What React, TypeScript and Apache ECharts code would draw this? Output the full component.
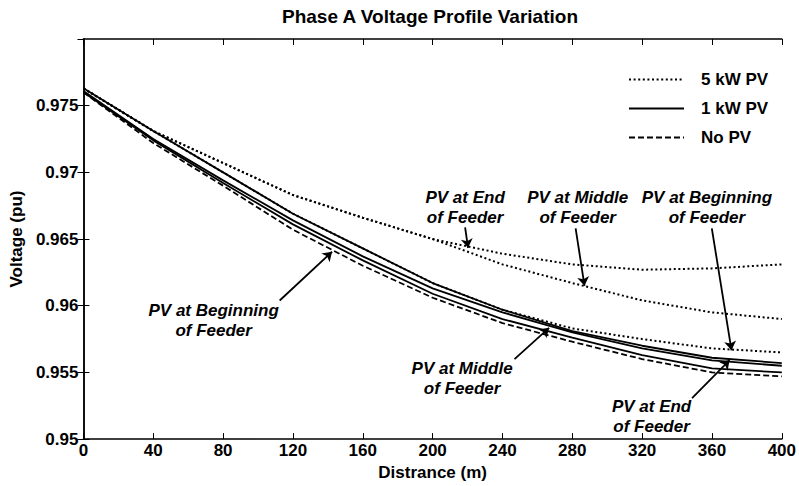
import React, { useEffect, useRef } from "react";
import * as echarts from "echarts";

// Distance along feeder (m)
const distances = [0, 40, 80, 120, 160, 200, 240, 280, 320, 360, 400];

// Voltage (pu)
const noPV = [0.976, 0.9722, 0.969, 0.9657, 0.963, 0.9606, 0.9587, 0.9573, 0.956, 0.955, 0.9547];
const kw1Beginning = [0.976, 0.9724, 0.9692, 0.9661, 0.9634, 0.9609, 0.959, 0.9576, 0.9563, 0.9553, 0.955];
const kw1Middle = [0.9761, 0.9725, 0.9694, 0.9664, 0.9637, 0.9613, 0.9595, 0.958, 0.9568, 0.9559, 0.9555];
const kw1End = [0.9763, 0.9731, 0.97, 0.9669, 0.9643, 0.9617, 0.9597, 0.9581, 0.957, 0.9561, 0.9557];
const kw5End = [0.9763, 0.9731, 0.9707, 0.9683, 0.9666, 0.965, 0.9639, 0.9631, 0.9627, 0.9628, 0.9631];
const kw5Middle = [0.9763, 0.9731, 0.9707, 0.9683, 0.9666, 0.965, 0.9631, 0.9617, 0.9604, 0.9595, 0.959];
const kw5Beginning = [0.9763, 0.9731, 0.97, 0.9669, 0.9643, 0.9617, 0.9597, 0.9583, 0.9575, 0.9568, 0.9565];

const legendNames = ["5 kW PV", "1 kW PV", "No PV"];

// Annotations (data coordinates)
const annotationTexts = [
  "PV at End\nof Feeder",
  "PV at Middle\nof Feeder",
  "PV at Beginning\nof Feeder",
  "PV at Beginning\nof Feeder",
  "PV at Middle\nof Feeder",
  "PV at End\nof Feeder",
];
const annotationX = [218.6, 283.1, 357.1, 74.6, 216.9, 325.4];
const annotationY = [0.9674, 0.9674, 0.9674, 0.9589, 0.95454, 0.95168];
const arrowFromX = [218.6, 281.9, 359.9, 112.4, 246.9, 348.6];
const arrowFromY = [0.96588, 0.9658, 0.9658, 0.96039, 0.956, 0.95307];
const arrowToX = [220.3, 287, 371.2, 142.4, 266.7, 370.1];
const arrowToY = [0.96434, 0.96149, 0.95666, 0.96405, 0.95834, 0.95593];

const FONT = "Arial, 'Liberation Sans', Helvetica, sans-serif";
const DOTTED = [2, 2.6];
const DASHED = [6, 3];

export default function App() {
  const ref = useRef<HTMLDivElement>(null);

  useEffect(() => {
    if (!ref.current) return;
    const chart = echarts.init(ref.current, undefined, { renderer: "svg" });

    const lineSeries = (name: string, vals: number[], type: any, width: number, z: number) => ({
      name,
      type: "line",
      data: distances.map((d, i) => [d, vals[i]]),
      symbol: "none",
      showSymbol: false,
      silent: true,
      z,
      lineStyle: { color: "#000", width, type },
      itemStyle: { color: "#000" },
    });

    const axisCommon = {
      axisLine: { show: true, lineStyle: { color: "#000", width: 1.5 } },
      axisTick: { show: true, inside: true, length: 6, lineStyle: { color: "#000", width: 1 } },
      splitLine: { show: false },
    };

    chart.setOption({
      animation: false,
      backgroundColor: "#fff",
      title: {
        text: "Phase A Voltage Profile Variation",
        left: 430,
        textAlign: "center",
        top: 7,
        padding: 0,
        textStyle: { fontFamily: FONT, fontWeight: "bold", fontSize: 19, color: "#000" },
      },
      legend: {
        data: legendNames,
        orient: "vertical",
        left: 623,
        top: 66,
        itemWidth: 55,
        itemHeight: 14,
        itemGap: 12,
        selectedMode: false,
        itemStyle: { opacity: 0 },
        lineStyle: { opacity: 1 },
        textStyle: {
          fontFamily: FONT,
          fontWeight: "bold",
          fontSize: 17,
          lineHeight: 15,
          color: "#000",
          padding: [0, 0, 0, 12],
        },
      },
      grid: { left: 78, right: 13, top: 39, bottom: 37, containLabel: false },
      xAxis: [
        {
          type: "value",
          min: 0,
          max: 400,
          interval: 40,
          position: "bottom",
          name: "Distrance (m)",
          nameLocation: "middle",
          nameGap: 22,
          nameTextStyle: { fontFamily: FONT, fontWeight: "bold", fontSize: 17, color: "#000" },
          axisLabel: { fontFamily: FONT, fontWeight: "bold", fontSize: 17, color: "#000", margin: 3 },
          ...axisCommon,
        },
        {
          type: "value",
          min: 0,
          max: 400,
          interval: 40,
          position: "top",
          axisLabel: { show: false },
          ...axisCommon,
        },
      ],
      yAxis: [
        {
          type: "value",
          min: 0.95,
          max: 0.98,
          interval: 0.005,
          position: "left",
          name: "Voltage (pu)",
          nameLocation: "middle",
          nameGap: 51,
          nameTextStyle: { fontFamily: FONT, fontWeight: "bold", fontSize: 17, color: "#000" },
          axisLabel: {
            fontFamily: FONT,
            fontWeight: "bold",
            fontSize: 17,
            color: "#000",
            margin: 5,
            showMaxLabel: false,
          },
          ...axisCommon,
        },
        {
          type: "value",
          min: 0.95,
          max: 0.98,
          interval: 0.005,
          position: "right",
          axisLabel: { show: false },
          ...axisCommon,
        },
      ],
      series: [
        lineSeries("No PV", noPV, DASHED, 1.8, 2),
        lineSeries("1 kW PV", kw1Beginning, "solid", 1.8, 3),
        lineSeries("1 kW PV", kw1Middle, "solid", 1.8, 3),
        lineSeries("1 kW PV", kw1End, "solid", 1.8, 3),
        lineSeries("5 kW PV", kw5End, DOTTED, 2, 4),
        lineSeries("5 kW PV", kw5Middle, DOTTED, 2, 4),
        lineSeries("5 kW PV", kw5Beginning, DOTTED, 2, 4),
        {
          name: "arrows",
          type: "lines",
          coordinateSystem: "cartesian2d",
          silent: true,
          z: 5,
          symbol: ["none", "arrow"],
          symbolSize: 9,
          lineStyle: { color: "#000", width: 1.8, opacity: 1 },
          data: arrowFromX.map((x, i) => ({
            coords: [
              [x, arrowFromY[i]],
              [arrowToX[i], arrowToY[i]],
            ],
          })),
        },
        {
          name: "labels",
          type: "scatter",
          silent: true,
          z: 6,
          symbolSize: 0,
          itemStyle: { color: "#000", opacity: 1 },
          label: {
            show: true,
            position: "inside",
            formatter: (p: any) => p.name,
            fontFamily: FONT,
            fontWeight: "bold",
            fontStyle: "italic",
            fontSize: 17,
            lineHeight: 20,
            align: "center",
            verticalAlign: "middle",
            color: "#000",
            opacity: 1,
          },
          data: annotationTexts.map((t, i) => ({ name: t, value: [annotationX[i], annotationY[i]] })),
        },
      ],
    });

    return () => chart.dispose();
  }, []);

  return (
    <div
      ref={ref}
      style={{ position: "absolute", left: 0, top: 0, width: 799, height: 486, background: "#fff" }}
    />
  );
}
